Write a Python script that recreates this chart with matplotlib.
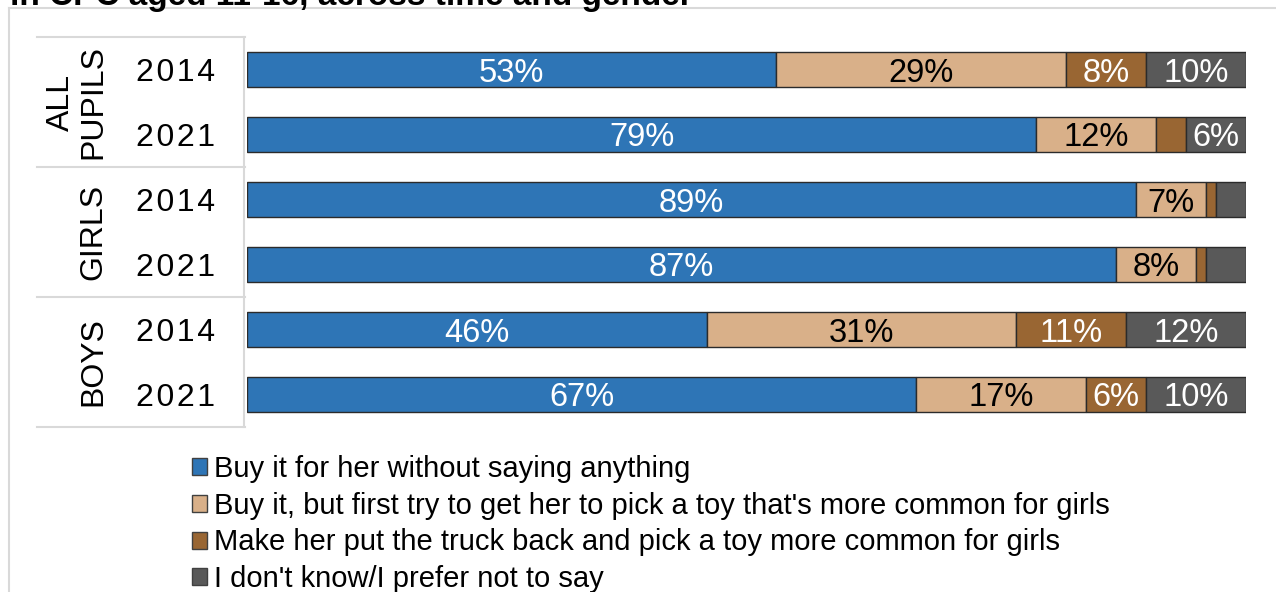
import matplotlib
matplotlib.use("Agg")
import matplotlib.pyplot as plt
from matplotlib.lines import Line2D
from matplotlib.patches import Patch
from matplotlib.transforms import blended_transform_factory
import numpy as np

plt.rcParams['font.family'] = ['Liberation Sans', 'DejaVu Sans']

# Data
groups = ["ALL\nPUPILS", "GIRLS", "BOYS"]
years = ["2014", "2021", "2014", "2021", "2014", "2021"]
responses = [
    "Buy it for her without saying anything",
    "Buy it, but first try to get her to pick a toy that's more common for girls",
    "Make her put the truck back and pick a toy more common for girls",
    "I don't know/I prefer not to say",
]
buy_without = [53, 79, 89, 87, 46, 67]
buy_but_try = [29, 12, 7, 8, 31, 17]
put_back = [8, 3, 1, 1, 11, 6]
dont_know = [10, 6, 3, 4, 12, 10]
title = "in CPC aged 11-16, across time and gender"

series = [buy_without, buy_but_try, put_back, dont_know]
colors = ["#2E75B6", "#D9B089", "#996633", "#595959"]
text_colors = ["white", "black", "white", "white"]

W, H = 1276, 592
fig = plt.figure(figsize=(W / 100, H / 100), dpi=100)
ax = fig.add_axes([247 / W, 1 - 427 / H, 999 / W, 390 / H])

rows = np.arange(len(years))
left = np.zeros(len(years))
for vals, col, tcol in zip(series, colors, text_colors):
    vals = np.array(vals, dtype=float)
    ax.barh(rows, vals, left=left, height=0.55, color=col,
            edgecolor="#2b2b2b", linewidth=1.0)
    for r, v, l in zip(rows, vals, left):
        if v >= 5:
            ax.text(l + v / 2, r, f"{int(v)}%", ha="center",
                    va="center_baseline", color=tcol, fontsize=23.5)
    left += vals

ax.set_xlim(0, 100)
ax.set_ylim(len(years) - 0.5, -0.5)
ax.set_xticks([])
ax.set_yticks([])
for s in ["top", "right", "bottom"]:
    ax.spines[s].set_visible(False)
ax.spines["left"].set_color("#d9d9d9")
ax.spines["left"].set_linewidth(1.5)
ax.spines["left"].set_position(("outward", 2))

# Category table on the left
tr = blended_transform_factory(fig.transFigure, ax.transData)
for yb in [-0.5, 1.5, 3.5, 5.5]:
    ax.add_line(Line2D([37 / W, 245 / W], [yb, yb], transform=tr,
                       color="#d9d9d9", lw=1.5, clip_on=False))
for r, yr in zip(rows, years):
    ax.text(176 / W, r, "\u200a".join(yr), transform=tr, ha="center",
            va="center_baseline", fontsize=23, color="black")
for i, g in enumerate(groups):
    xc = 77 / W if "\n" in g else 93 / W
    ax.text(xc, 2 * i + 0.5, g, transform=tr, ha="center", va="center",
            rotation=90, fontsize=23, multialignment="center",
            linespacing=1.1)

# Legend
handles = [Patch(facecolor=c, edgecolor="#404040", linewidth=1.0) for c in colors]
fig.legend(handles, responses, loc="upper left",
           bbox_to_anchor=(192 / W, 1 - 455 / H), frameon=False,
           fontsize=21, handlelength=0.52, handleheight=0.52,
           handletextpad=0.25, labelspacing=0.3, borderpad=0,
           borderaxespad=0)

# Outer frame and heading
fig.add_artist(Line2D([9 / W, 1], [1 - 8 / H, 1 - 8 / H], color="#d9d9d9", lw=1.5))
fig.add_artist(Line2D([9 / W, 9 / W], [0, 1 - 8 / H], color="#d9d9d9", lw=1.5))
fig.text(10 / W, 1 - 5 / H, title, ha="left", va="baseline",
         fontsize=24, fontweight="bold")

fig.savefig("out.png", dpi=100)
